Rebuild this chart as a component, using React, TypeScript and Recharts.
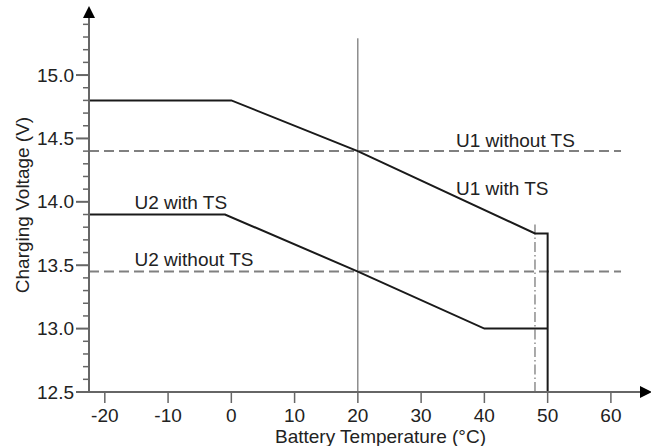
import React from 'react';
import { ComposedChart, Line, Scatter, XAxis, YAxis } from 'recharts';

// temperature (°C) / voltage (V) points
const u1WithTs = [
  { t: -22.5, v: 14.8 },
  { t: 0, v: 14.8 },
  { t: 20, v: 14.4 },
  { t: 48, v: 13.75 },
  { t: 50, v: 13.75 },
  { t: 50, v: 12.5 },
];
const u2WithTs = [
  { t: -22.5, v: 13.9 },
  { t: -1, v: 13.9 },
  { t: 20, v: 13.45 },
  { t: 40, v: 13.0 },
  { t: 50, v: 13.0 },
];
const u1WithoutTs = [
  { t: -22.5, v: 14.4 },
  { t: 61.6, v: 14.4 },
];
const u2WithoutTs = [
  { t: -22.5, v: 13.45 },
  { t: 61.6, v: 13.45 },
];
const refAt20 = [
  { t: 20, v: 12.5 },
  { t: 20, v: 15.29 },
];
const refAt48 = [
  { t: 48, v: 12.5 },
  { t: 48, v: 13.83 },
];

const seriesLabels = [
  { t: 35.5, v: 14.43, text: 'U1 without TS' },
  { t: 35.5, v: 14.05, text: 'U1 with TS' },
  { t: -15.3, v: 13.94, text: 'U2 with TS' },
  { t: -15.3, v: 13.49, text: 'U2 without TS' },
];

const xTicks = [-20, -10, 0, 10, 20, 30, 40, 50, 60];
const yTicks = [
  12.5, 12.6, 12.7, 12.8, 12.9, 13.0, 13.1, 13.2, 13.3, 13.4,
  13.5, 13.6, 13.7, 13.8, 13.9, 14.0, 14.1, 14.2, 14.3, 14.4,
  14.5, 14.6, 14.7, 14.8, 14.9, 15.0, 15.1, 15.2, 15.3, 15.4,
];

const FONT = '"Liberation Sans", Arial, sans-serif';
const FS = 19;
const INK = '#222';
const AXIS = '#666';

const YTick = ({ x, y, payload }: any) => {
  const v = payload.value as number;
  const major = Math.abs(v * 2 - Math.round(v * 2)) < 1e-6;
  return (
    <g>
      <line x1={x - (major ? 13 : 6)} x2={x} y1={y} y2={y} stroke={AXIS} strokeWidth={major ? 2 : 1.5} />
      {major && (
        <text x={x - 15} y={y} dy="0.35em" textAnchor="end" fill={INK} fontSize={FS} fontFamily={FONT}>
          {v.toFixed(1)}
        </text>
      )}
    </g>
  );
};

const LabelText = ({ cx, cy, payload }: any) => (
  <text x={cx} y={cy} textAnchor="start" fill={INK} fontSize={FS} fontFamily={FONT}>
    {payload.text}
  </text>
);

const XTitle = ({ viewBox }: any) => (
  <text
    x={viewBox.x + viewBox.width / 2 + 16}
    y={viewBox.y + viewBox.height - 3}
    textAnchor="middle"
    fill={INK}
    fontSize={FS}
    fontFamily={FONT}
  >
    Battery Temperature (°C)
  </text>
);

const YTitle = ({ viewBox }: any) => {
  const cx = 22;
  const cy = viewBox.y + viewBox.height / 2;
  return (
    <text
      x={cx}
      y={cy}
      transform={`rotate(-90, ${cx}, ${cy})`}
      textAnchor="middle"
      dominantBaseline="central"
      fill={INK}
      fontSize={FS}
      fontFamily={FONT}
    >
      Charging Voltage (V)
    </text>
  );
};

export default function App() {
  return (
    <div style={{ position: 'fixed', left: 0, top: 0, background: '#fff' }}>
      <ComposedChart width={651} height={446} margin={{ top: 18, right: 11, left: 0, bottom: 0 }}>
        <defs>
          <marker
            id="axisArrow"
            viewBox="0 0 12 12"
            refX={0}
            refY={6}
            markerWidth={12}
            markerHeight={12}
            markerUnits="userSpaceOnUse"
            orient="auto-start-reverse"
          >
            <path d="M0,0 L12,6 L0,12 z" fill="#000" />
          </marker>
        </defs>
        <XAxis
          type="number"
          dataKey="t"
          domain={[-22.5, 64.6]}
          allowDataOverflow
          ticks={xTicks}
          interval={0}
          height={54}
          tickSize={11}
          tickMargin={6}
          tick={{ fill: INK, fontSize: FS, fontFamily: FONT }}
          tickLine={{ stroke: AXIS, strokeWidth: 1.5 }}
          axisLine={{ stroke: AXIS, strokeWidth: 2, markerEnd: 'url(#axisArrow)' }}
          label={<XTitle />}
        />
        <YAxis
          type="number"
          dataKey="v"
          domain={[12.5, 15.45]}
          allowDataOverflow
          ticks={yTicks}
          interval={0}
          width={89}
          tickSize={0}
          tickMargin={0}
          tickLine={false}
          tick={<YTick />}
          axisLine={{ stroke: AXIS, strokeWidth: 2, markerStart: 'url(#axisArrow)' }}
          label={<YTitle />}
        />
        <Line data={refAt20} dataKey="v" stroke="#555" strokeWidth={1} dot={false} isAnimationActive={false} />
        <Line
          data={refAt48}
          dataKey="v"
          stroke="#555"
          strokeWidth={1}
          strokeDasharray="10 3 1.5 3"
          dot={false}
          isAnimationActive={false}
        />
        <Line
          data={u1WithoutTs}
          dataKey="v"
          stroke="#808080"
          strokeWidth={2}
          strokeDasharray="10 5"
          dot={false}
          isAnimationActive={false}
        />
        <Line
          data={u2WithoutTs}
          dataKey="v"
          stroke="#808080"
          strokeWidth={2}
          strokeDasharray="10 5"
          dot={false}
          isAnimationActive={false}
        />
        <Line data={u1WithTs} dataKey="v" stroke="#1a1a1a" strokeWidth={2} dot={false} isAnimationActive={false} />
        <Line data={u2WithTs} dataKey="v" stroke="#1a1a1a" strokeWidth={2} dot={false} isAnimationActive={false} />
        <Scatter data={seriesLabels} dataKey="v" shape={<LabelText />} isAnimationActive={false} />
      </ComposedChart>
    </div>
  );
}
